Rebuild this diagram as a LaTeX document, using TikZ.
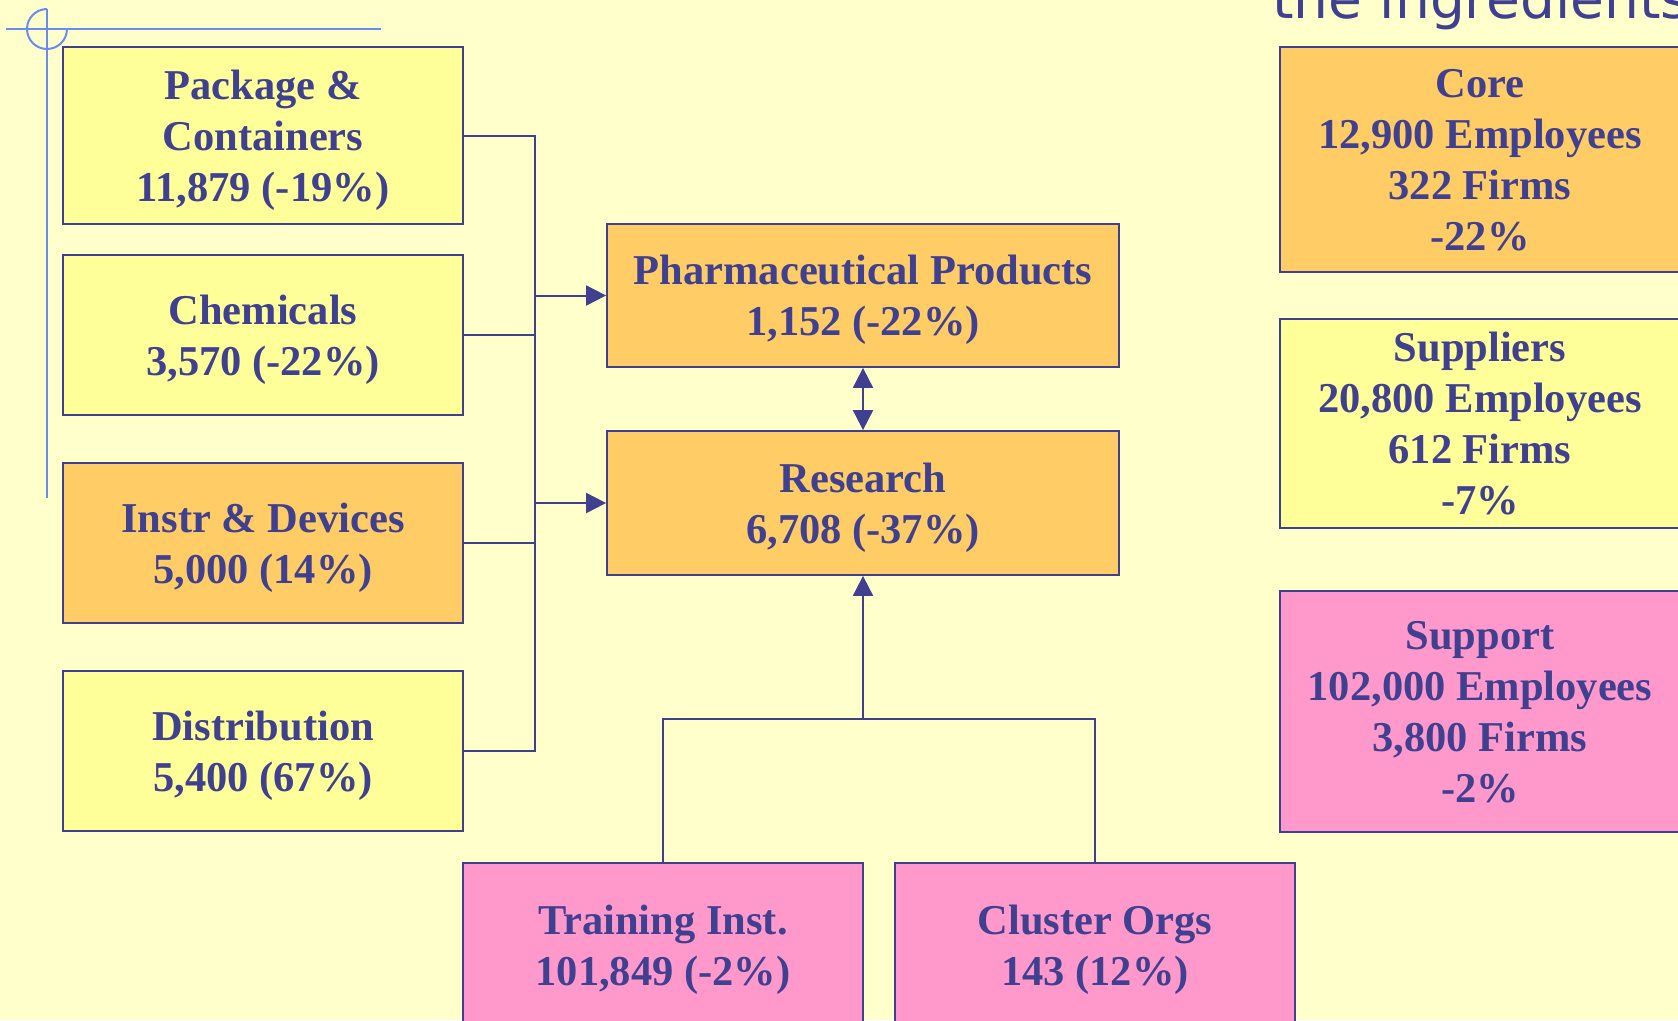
\documentclass[tikz,border=0pt]{standalone}
\usepackage{fontspec}
\setmainfont{Liberation Serif}
\newfontfamily\titlefont{DejaVu Sans}
\usetikzlibrary{arrows.meta}
\definecolor{bg}{HTML}{FFFFCC}
\definecolor{ylw}{HTML}{FFFF99}
\definecolor{org}{HTML}{FFCC66}
\definecolor{pnk}{HTML}{FF99CC}
\definecolor{ink}{HTML}{404090}
\definecolor{deco}{HTML}{6A8CF2}
\newcommand{\bxt}[1]{\raisebox{-4.5pt}[\height][\depth]{\begin{tabular}{@{}c@{}}#1\end{tabular}}}
\begin{document}
\begin{tikzpicture}[x=1pt,y=-1pt,
  box/.style={draw=ink, line width=1.8pt, text=ink,
    font=\fontsize{42.5}{51}\selectfont\bfseries, inner sep=0pt},
  conn/.style={draw=ink, line width=2pt},
  arr/.style={-{Triangle[length=20pt,width=20pt]}},
  dbl/.style={{Triangle[length=20pt,width=20pt]}-{Triangle[length=20pt,width=20pt]}},
  decoline/.style={draw=deco, line width=2pt}]
\useasboundingbox (0,0) rectangle (1678,1020);
\fill[bg] (0,0) rectangle (1678,1020);
\clip (0,0) rectangle (1678,1020);
% decoration
\draw[decoline] (6,29) -- (381,29);
\draw[decoline] (47,9) -- (47,498);
\draw[decoline] (47,9) arc[start angle=-90, end angle=-360, radius=20];
% title
\node[anchor=base west, font=\titlefont\fontsize{55}{60}\selectfont, text=ink, inner sep=0pt] (title) at (1272,18) {the ingredients};
% left column
\node[box, fill=ylw, minimum width=400pt, minimum height=177pt] (pkg) at (263,135.5) {\bxt{Package \&\\Containers\\11,879 (-19\%)}};
\node[box, fill=ylw, minimum width=400pt, minimum height=160pt] (chem) at (263,335) {\bxt{Chemicals\\3,570 (-22\%)}};
\node[box, fill=org, minimum width=400pt, minimum height=160pt] (instr) at (263,543) {\bxt{Instr \& Devices\\5,000 (14\%)}};
\node[box, fill=ylw, minimum width=400pt, minimum height=160pt] (dist) at (263,751) {\bxt{Distribution\\5,400 (67\%)}};
% center
\node[box, fill=org, minimum width=512pt, minimum height=143pt] (pharma) at (863,295.5) {\bxt{Pharmaceutical Products\\1,152 (-22\%)}};
\node[box, fill=org, minimum width=512pt, minimum height=144pt] (res) at (863,503) {\bxt{Research\\6,708 (-37\%)}};
\node[box, fill=pnk, minimum width=400pt, minimum height=165pt] (train) at (663,945.5) {\bxt{Training Inst.\\101,849 (-2\%)}};
\node[box, fill=pnk, minimum width=400pt, minimum height=165pt] (clust) at (1095,945.5) {\bxt{Cluster Orgs\\143 (12\%)}};
% right column
\node[box, fill=org, minimum width=400pt, minimum height=225pt] (core) at (1480,159.5) {\bxt{Core\\12,900 Employees\\322 Firms\\-22\%}};
\node[box, fill=ylw, minimum width=400pt, minimum height=209pt] (supp) at (1480,423.5) {\bxt{Suppliers\\20,800 Employees\\612 Firms\\-7\%}};
\node[box, fill=pnk, minimum width=400pt, minimum height=241pt] (sup) at (1480,711.5) {\bxt{Support\\102,000 Employees\\3,800 Firms\\-2\%}};
% connectors
\coordinate (busT) at (535,135.5);
\coordinate (busB) at (535,751);
\coordinate (jn) at (863,719);
\draw[conn] (pkg.east) -- (busT) -- (busB) -- (dist.east);
\draw[conn] (chem.east) -- (chem.east -| busT);
\draw[conn] (instr.east) -- (instr.east -| busT);
\draw[conn, arr] (pharma.west -| busT) -- (pharma.west);
\draw[conn, arr] (res.west -| busT) -- (res.west);
\draw[conn, dbl] (pharma.south) -- (res.north);
\draw[conn] (train.north) |- (clust.north |- jn) -- (clust.north);
\draw[conn, arr] (jn) -- (res.south);
\end{tikzpicture}
\end{document}
